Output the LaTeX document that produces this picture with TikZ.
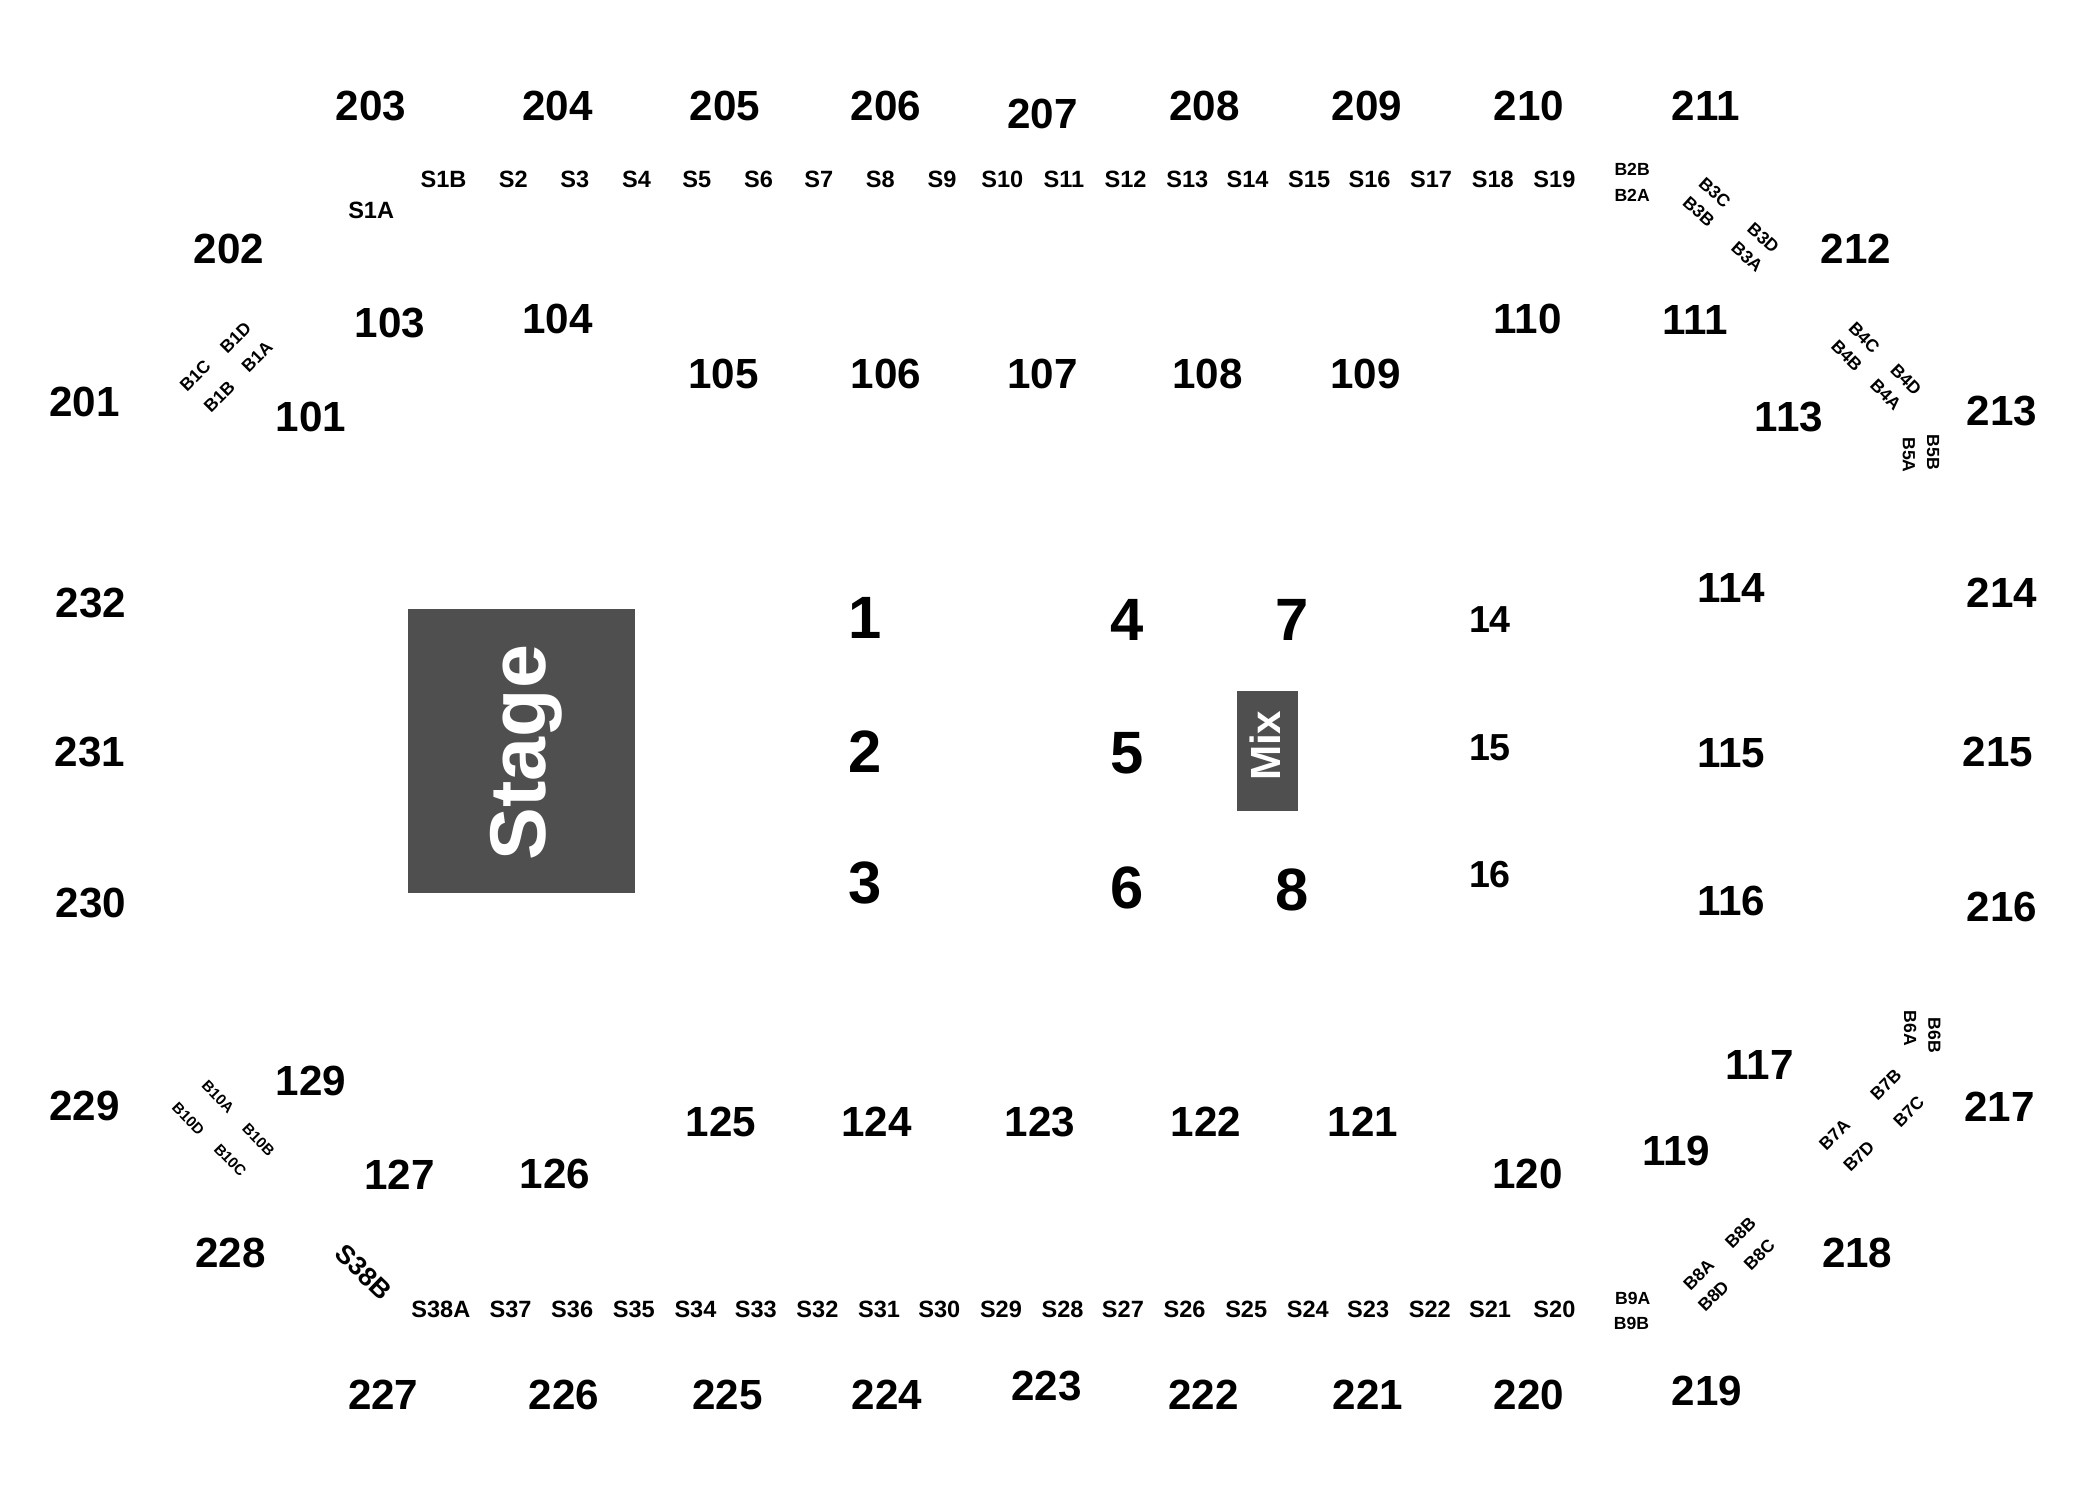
\documentclass[tikz,border=0pt]{standalone}
\usepackage{fontspec}
\setmainfont{Liberation Sans}
\definecolor{stagegray}{RGB}{79,79,79}
\tikzset{
  base/.style={inner sep=0pt, outer sep=0pt, text=black},
  lbl/.style={base, font=\fontsize{12}{12}\selectfont\bfseries},
  bignum/.style={base, font=\fontsize{17}{17}\selectfont\bfseries},
  midnum/.style={base, font=\fontsize{10.7}{10.7}\selectfont\bfseries},
  slbl/.style={base, font=\fontsize{6.7}{6.7}\selectfont\bfseries},
  blbl/.style={base, font=\fontsize{5}{5}\selectfont\bfseries},
  bsml/.style={base, font=\fontsize{4.3}{4.3}\selectfont\bfseries},
}
\begin{document}
\begin{tikzpicture}[x=0.0134cm, y=-0.0134cm]
\useasboundingbox (0,0) rectangle (1567.16,1122.39);
% 200-level
\foreach \t/\x/\y in {203/277/79, 204/416/79, 205/541/79, 206/661/79, 207/778/85,
  208/899/79, 209/1020/79, 210/1141/79, 211/1273/79,
  202/171/186, 212/1385/186, 201/63/300, 213/1494/307,
  232/68/450, 214/1494/442, 231/67/561, 215/1491/561,
  230/68/674, 216/1494/677, 229/63/825, 217/1492/826,
  228/172/935, 218/1386/935,
  227/286/1041, 226/421/1041, 225/543/1041, 224/662/1041, 223/781/1034,
  222/898/1041, 221/1021/1041, 220/1141/1041, 219/1274/1038}
  \node[lbl] (n\t) at (\x,\y) {\t};
% 100-level
\foreach \t/\x/\y in {103/291/241, 104/416/238, 105/540/279, 106/661/279, 107/778/279,
  108/901/279, 109/1019/279, 110/1140/238, 111/1265/239, 101/232/311, 113/1335/311,
  114/1292/439, 115/1292/562, 116/1292/672, 117/1313/795, 119/1251/859, 120/1140/876,
  121/1017/837, 122/900/837, 123/776/837, 124/654/837, 125/538/837, 126/414/876,
  127/298/877, 129/232/807}
  \node[lbl] (n\t) at (\x,\y) {\t};
% floor
\foreach \t/\x/\y in {1/645.5/461.1, 2/645.5/560.9, 3/645.5/659, 4/841/462.7, 5/841/561.9,
  6/841/662.7, 7/964/462.7, 8/964/664.2}
  \node[bignum] (f\t) at (\x,\y) {\t};
\foreach \t/\x/\y in {14/1111.9/462.7, 15/1111.9/558.2, 16/1111.9/652.9}
  \node[midnum] (f\t) at (\x,\y) {\t};
% stage and mix
\fill[stagegray] (304.5,454.5) rectangle (473.9,666.4);
\node[base, text=white, rotate=90, font=\fontsize{22.5}{22.5}\selectfont\bfseries] (stage) at (393.1,561.6) {Stage};
\fill[stagegray] (923.1,515.7) rectangle (968.7,605.2);
\node[base, text=white, rotate=90, font=\fontsize{12}{12}\selectfont\bfseries] (mix) at (944,556.6) {Mix};
% S row top
\foreach \t/\x in {S1B/331, S2/383, S3/429, S4/475, S5/520, S6/566, S7/611, S8/657, S9/703,
  S10/748, S11/794, S12/840, S13/886, S14/931, S15/977, S16/1022, S17/1068, S18/1114, S19/1160}
  \node[slbl] (\t) at (\x,134) {\t};
\node[slbl] (S1A) at (277,157) {S1A};
% S row bottom
\foreach \t/\x in {S38A/329, S37/381, S36/427, S35/473, S34/519, S33/564, S32/610, S31/656,
  S30/701, S29/747, S28/793, S27/838, S26/884, S25/930, S24/976, S23/1021, S22/1067, S21/1112, S20/1160}
  \node[slbl] (\t) at (\x,977) {\t};
\node[slbl, font=\fontsize{7.5}{7.5}\selectfont\bfseries, rotate=-44] (S38B) at (271.2,949.3) {S38B};
% boxes
\node[blbl] (B2B) at (1218,126.5) {B2B};
\node[blbl] (B2A) at (1218,145.5) {B2A};
\node[blbl, rotate=-42] (B3C) at (1279.7,143.6) {B3C};
\node[blbl, rotate=-42] (B3B) at (1267.7,157.7) {B3B};
\node[blbl, rotate=-42] (B3D) at (1315.9,177.8) {B3D};
\node[blbl, rotate=-42] (B3A) at (1303.8,191.9) {B3A};
\node[blbl, rotate=45] (B1C) at (145.7,280.3) {B1C};
\node[blbl, rotate=45] (B1D) at (175.8,252.1) {B1D};
\node[blbl, rotate=45] (B1B) at (163.7,296.3) {B1B};
\node[blbl, rotate=45] (B1A) at (191.9,266.2) {B1A};
\node[blbl, rotate=-45] (B4C) at (1391.2,252.1) {B4C};
\node[blbl, rotate=-45] (B4B) at (1378.2,265.2) {B4B};
\node[blbl, rotate=-45] (B4D) at (1422.4,283.3) {B4D};
\node[blbl, rotate=-45] (B4A) at (1407.3,294.3) {B4A};
\node[blbl, rotate=-90] (B5A) at (1424.4,339.5) {B5A};
\node[blbl, rotate=-90] (B5B) at (1442.5,337.5) {B5B};
\node[blbl, rotate=-90] (B6A) at (1425.4,767.4) {B6A};
\node[blbl, rotate=-90] (B6B) at (1443.5,772.5) {B6B};
\node[blbl, rotate=45] (B7B) at (1407.3,809.6) {B7B};
\node[blbl, rotate=45] (B7C) at (1424.4,829.7) {B7C};
\node[blbl, rotate=45] (B7A) at (1369.1,846.8) {B7A};
\node[blbl, rotate=45] (B7D) at (1387.2,862.9) {B7D};
\node[blbl, rotate=45] (B8A) at (1267.7,951.3) {B8A};
\node[blbl, rotate=45] (B8B) at (1298.8,920.1) {B8B};
\node[blbl, rotate=45] (B8C) at (1312.9,936.2) {B8C};
\node[blbl, rotate=45] (B8D) at (1278.7,967.3) {B8D};
\node[blbl] (B9A) at (1218.5,969.3) {B9A};
\node[blbl] (B9B) at (1217.5,987.4) {B9B};
\node[bsml, rotate=-46] (B10A) at (162.7,818.7) {B10A};
\node[bsml, rotate=-46] (B10D) at (140.6,834.7) {B10D};
\node[bsml, rotate=-46] (B10B) at (192.9,850.8) {B10B};
\node[bsml, rotate=-46] (B10C) at (171.8,865.9) {B10C};
\end{tikzpicture}
\end{document}
